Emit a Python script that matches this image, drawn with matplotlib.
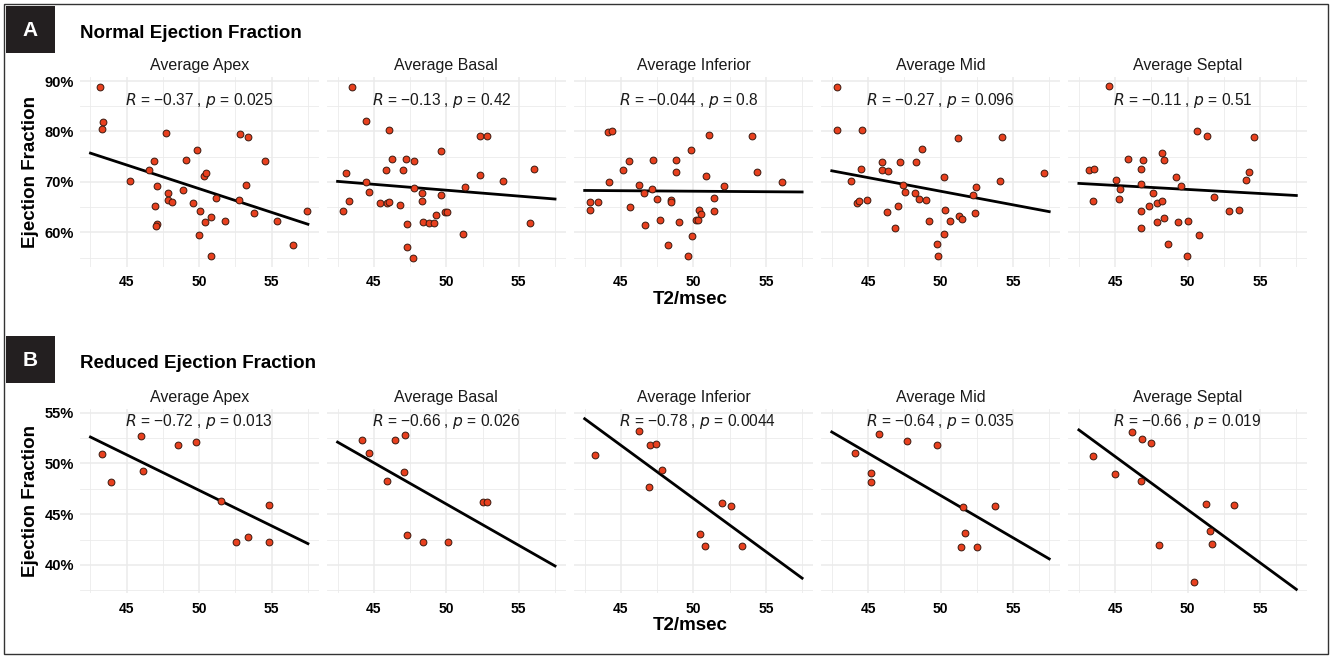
import matplotlib.pyplot as plt
from matplotlib.patches import Rectangle
from matplotlib.ticker import MultipleLocator, FuncFormatter
import numpy as np

plt.rcParams['font.family'] = ['Liberation Sans', 'DejaVu Sans']

regions = ['Average Apex', 'Average Basal', 'Average Inferior', 'Average Mid', 'Average Septal']

# ---- A: normal ejection fraction (T2 msec, EF %) ----
a_apex_x = [43.16, 43.39, 43.3, 45.23, 46.52, 46.89, 47.07, 46.98, 47.11, 47.02, 47.74, 47.83, 47.85, 48.15,
            48.91, 49.07, 49.6, 49.87, 50.08, 50.01, 50.31, 50.47, 50.4, 50.79, 50.82, 51.14, 51.78, 52.72,
            52.84, 53.37, 53.23, 53.8, 54.56, 55.34, 56.45, 57.41]
a_apex_y = [88.8, 81.8, 80.4, 70.1, 72.3, 74.1, 69.1, 65.2, 61.7, 61.2, 79.6, 67.8, 66.4, 66.0,
            68.4, 74.4, 65.8, 76.3, 64.3, 59.5, 71.2, 71.8, 62.1, 63.1, 55.3, 66.8, 62.2, 66.4,
            79.4, 79.0, 69.3, 63.8, 74.1, 62.2, 57.5, 64.2]
a_basal_x = [43.51, 43.09, 43.3, 42.84, 44.49, 44.47, 44.7, 45.44, 45.83, 45.92, 46.03, 46.06, 46.26,
             46.82, 47.0, 47.23, 47.3, 47.32, 47.67, 47.74, 47.8, 48.31, 48.31, 48.38, 48.84, 49.16,
             49.3, 49.64, 49.62, 49.92, 50.06, 51.16, 51.32, 52.33, 52.84, 52.33, 53.92, 55.78, 56.03]
a_basal_y = [88.9, 71.8, 66.3, 64.3, 82.0, 70.0, 68.0, 65.9, 72.4, 65.9, 66.0, 80.3, 74.5,
             65.4, 72.3, 74.5, 61.7, 57.0, 54.9, 74.2, 68.8, 67.8, 66.2, 62.0, 61.9, 61.9,
             63.5, 76.2, 67.4, 64.0, 64.1, 59.6, 68.9, 79.1, 79.1, 71.4, 70.1, 61.9, 72.5]
a_inf_x = [42.88, 43.41, 42.86, 44.12, 44.38, 44.17, 45.12, 45.53, 45.62, 46.27, 46.61, 46.68, 47.14,
           47.21, 47.47, 47.72, 48.23, 48.48, 48.48, 48.8, 48.8, 48.99, 49.82, 49.91, 49.65, 50.18,
           50.32, 50.37, 50.51, 51.1, 50.9, 51.45, 51.45, 52.14, 54.06, 54.42, 56.11]
a_inf_y = [66.0, 66.1, 64.5, 79.9, 80.1, 69.9, 72.4, 74.1, 65.1, 69.3, 67.8, 61.4, 68.6,
           74.3, 66.6, 62.4, 57.4, 66.4, 66.1, 74.3, 72.0, 62.0, 76.3, 59.3, 55.3, 62.4,
           62.4, 64.5, 63.6, 79.3, 71.2, 66.8, 64.3, 69.1, 79.1, 72.0, 70.0]
a_mid_x = [42.84, 42.84, 44.59, 43.83, 44.54, 44.26, 44.36, 44.95, 45.97, 45.97, 46.38, 46.29, 46.86,
           47.05, 47.21, 47.39, 47.53, 48.29, 48.22, 48.49, 48.75, 49.0, 49.18, 49.76, 49.83, 50.22,
           50.31, 50.26, 50.66, 51.23, 51.28, 51.48, 52.26, 52.45, 52.38, 54.08, 54.26, 57.14]
a_mid_y = [88.8, 80.3, 80.3, 70.2, 72.5, 65.9, 66.2, 66.5, 73.9, 72.4, 72.2, 64.1, 60.9,
           65.2, 74.0, 69.3, 68.0, 74.0, 67.8, 66.6, 76.5, 66.5, 62.3, 57.6, 55.4, 70.9,
           64.5, 59.6, 62.3, 78.8, 63.2, 62.6, 67.4, 69.0, 63.9, 70.1, 78.9, 71.8]
a_sep_x = [44.61, 43.19, 43.54, 43.49, 45.07, 45.32, 45.26, 45.86, 46.76, 46.81, 46.93, 46.76, 46.81,
           47.32, 47.62, 47.88, 47.92, 48.25, 48.22, 48.39, 48.34, 48.64, 49.2, 49.55, 49.34, 50.0,
           49.97, 50.66, 51.36, 50.8, 51.82, 52.84, 53.58, 54.05, 54.21, 54.56]
a_sep_y = [89.0, 72.4, 72.6, 66.3, 70.4, 68.5, 66.7, 74.6, 72.5, 69.6, 74.3, 64.3, 60.9,
           65.3, 67.8, 62.1, 65.9, 66.3, 75.7, 74.3, 62.8, 57.6, 70.9, 69.1, 62.1, 62.2,
           55.3, 80.0, 79.1, 59.5, 67.1, 64.2, 64.5, 70.4, 72.0, 79.0]

# ---- B: reduced ejection fraction ----
b_apex_x = [43.32, 43.9, 45.97, 46.1, 48.52, 49.76, 51.51, 52.52, 53.37, 54.84, 54.84]
b_apex_y = [50.96, 48.17, 52.7, 49.29, 51.78, 52.14, 46.3, 42.23, 42.79, 45.94, 42.26]
b_basal_x = [44.2, 44.66, 45.92, 46.49, 47.18, 47.09, 47.3, 48.4, 50.13, 52.54, 52.82]
b_basal_y = [52.31, 51.03, 48.27, 52.28, 52.77, 49.16, 42.92, 42.26, 42.26, 46.17, 46.2]
b_inf_x = [43.18, 46.27, 47.03, 47.44, 47.86, 46.94, 51.96, 52.56, 50.46, 50.78, 53.34]
b_inf_y = [50.83, 53.23, 51.78, 51.88, 49.32, 47.71, 46.14, 45.84, 43.02, 41.9, 41.9]
b_mid_x = [44.08, 45.76, 45.18, 45.18, 47.67, 49.76, 51.55, 53.74, 51.69, 51.44, 52.54]
b_mid_y = [51.0, 52.9, 49.09, 48.2, 52.18, 51.78, 45.71, 45.84, 43.15, 41.77, 41.77]
b_sep_x = [43.49, 46.16, 46.88, 47.46, 45.02, 46.79, 51.29, 53.21, 51.54, 51.68, 48.02, 50.41]
b_sep_y = [50.73, 53.09, 52.44, 52.05, 48.99, 48.24, 46.0, 45.91, 43.35, 42.1, 41.93, 38.36]

# fitted lines, value at x = 42.5 and x = 57.5
fit_x = [42.5, 57.5]
a_fit = [[75.7, 61.6], [70.1, 66.6], [68.3, 68.0], [72.2, 64.1], [69.7, 67.3]]
b_fit = [[52.6, 42.1], [52.1, 39.9], [54.4, 38.7], [53.1, 40.6], [53.3, 37.6]]

a_labels = ['R = \u22120.37 , p = 0.025', 'R = \u22120.13 , p = 0.42', 'R = \u22120.044 , p = 0.8',
            'R = \u22120.27 , p = 0.096', 'R = \u22120.11 , p = 0.51']
b_labels = ['R = \u22120.72 , p = 0.013', 'R = \u22120.66 , p = 0.026', 'R = \u22120.78 , p = 0.0044',
            'R = \u22120.64 , p = 0.035', 'R = \u22120.66 , p = 0.019']

a_x = [a_apex_x, a_basal_x, a_inf_x, a_mid_x, a_sep_x]
a_y = [a_apex_y, a_basal_y, a_inf_y, a_mid_y, a_sep_y]
b_x = [b_apex_x, b_basal_x, b_inf_x, b_mid_x, b_sep_x]
b_y = [b_apex_y, b_basal_y, b_inf_y, b_mid_y, b_sep_y]

W, H = 1332, 658
fig = plt.figure(figsize=(W / 100, H / 100), dpi=100)
fig.patch.set_facecolor('white')

# outer frame
fig.add_artist(Rectangle((4 / W, 4 / H), 1 - 8 / W, 1 - 8 / H, transform=fig.transFigure,
                         fill=False, edgecolor='#333333', linewidth=1.0))

pt_color = '#E8401E'
grey = '#EBEBEB'


def pct(v, pos):
    return '%d%%' % round(v)


def draw_row(xs, ys, fits, labels, bottom, top, ylim, ymajor, label_y):
    axes = []
    for i in range(5):
        left = 79.6 + i * 247.1
        ax = fig.add_axes([left / W, 1 - bottom / H, 239.2 / W, (bottom - top) / H])
        ax.set_xlim(41.75, 58.25)
        ax.set_ylim(*ylim)
        ax.xaxis.set_major_locator(MultipleLocator(5))
        ax.xaxis.set_minor_locator(MultipleLocator(2.5))
        ax.yaxis.set_major_locator(MultipleLocator(ymajor))
        ax.yaxis.set_minor_locator(MultipleLocator(ymajor / 2))
        ax.grid(which='major', color=grey, linewidth=1.1)
        ax.grid(which='minor', color=grey, linewidth=0.6)
        ax.set_axisbelow(True)
        for s in ax.spines.values():
            s.set_visible(False)
        ax.tick_params(which='both', length=0)
        ax.tick_params(axis='x', labelsize=10, pad=6)
        for t in ax.get_xticklabels():
            t.set_fontweight('bold')
        if i == 0:
            ax.yaxis.set_major_formatter(FuncFormatter(pct))
            ax.tick_params(axis='y', labelsize=10.5, pad=4)
            for t in ax.get_yticklabels():
                t.set_fontweight('bold')
            ax.set_ylabel('Ejection Fraction', fontsize=13.5, fontweight='bold', labelpad=4)
        else:
            ax.set_yticklabels([])
        ax.plot(fit_x, fits[i], color='black', linewidth=2.0, zorder=2)
        ax.scatter(xs[i], ys[i], s=24, color=pt_color, edgecolors='#3a1a10', linewidths=0.7, zorder=3)
        ax.set_title(regions[i], fontsize=11.5, pad=5, color='#1a1a1a')
        r, p = labels[i].split(' , ')
        ax.text(44.85, label_y, '$R$' + r[1:] + ' , ' + '$p$' + p[1:], fontsize=11.2,
                ha='left', va='center', color='#1a1a1a')
        axes.append(ax)
    return axes


draw_row(a_x, a_y, a_fit, a_labels, 266.6, 77, (53.2, 90.8), 10, 86.2)
draw_row(b_x, b_y, b_fit, b_labels, 593.4, 408.6, (37.2, 55.4), 5, 54.1)

# panel letters and group titles
for letter, y0, title in [('A', 6, 'Normal Ejection Fraction'), ('B', 336, 'Reduced Ejection Fraction')]:
    fig.add_artist(Rectangle((6 / W, 1 - (y0 + 47) / H), 49 / W, 47 / H, transform=fig.transFigure,
                             facecolor='#231f20', edgecolor='none'))
    fig.text(30.5 / W, 1 - (y0 + 24) / H, letter, color='white', fontsize=15, fontweight='bold',
             ha='center', va='center')
    fig.text(80 / W, 1 - (y0 + 27) / H, title, fontsize=13.5, fontweight='bold', ha='left', va='center')

fig.text(690 / W, 1 - 300 / H, 'T2/msec', fontsize=13.5, fontweight='bold', ha='center', va='center')
fig.text(690 / W, 1 - 626 / H, 'T2/msec', fontsize=13.5, fontweight='bold', ha='center', va='center')

fig.savefig('out.png', dpi=100)
